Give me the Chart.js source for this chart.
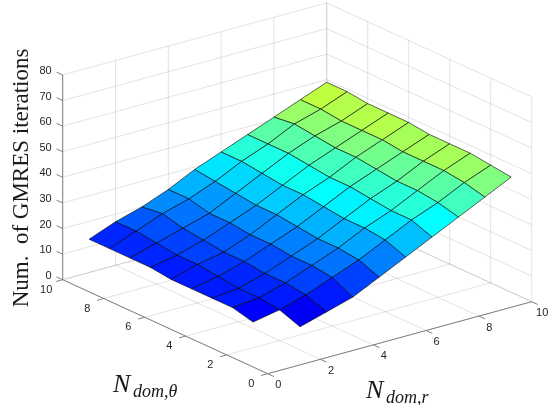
<!DOCTYPE html>
<html>
<head>
<meta charset="utf-8">
<style>
 html, body { margin: 0; padding: 0; background: #fff; }
 canvas { display: block; }
</style>
</head>
<body>
<canvas id="chart" width="558" height="405"></canvas>
<script src="https://cdn.jsdelivr.net/npm/chart.js@4"></script>
<script>
const domR = [1, 2, 3, 4, 5, 6, 7, 8, 9, 10];
const domTheta = [1, 2, 3, 4, 5, 6, 7, 8, 9, 10];
// iterations, one row per N_dom,theta (1..10), one column per N_dom,r (1..10)
const iters1 = [null, 9, 12, 15, 20, 25, 30, 35, 40, 45];
const iters2 = [10, 12, 15, 19, 23, 28, 33, 37, 42, 46];
const iters3 = [12, 13, 16, 20, 24, 29, 33, 38, 43, 47];
const iters4 = [12, 13, 16, 20, 24, 29, 34, 38, 43, 47];
const iters5 = [12, 14, 17, 21, 25, 30, 35, 39, 43, 47];
const iters6 = [12, 15, 17, 21, 26, 31, 35, 40, 44, 48];
const iters7 = [13, 15, 18, 22, 26, 31, 36, 40, 44, 48];
const iters8 = [13, 16, 19, 22, 27, 32, 37, 41, 44, 48];
const iters9 = [13, 17, 21, 24, 28, 33, 37, 42, 45, 49];
const iters10 = [13, 17, 20, 24, 29, 33, 37, 41, 45, 49];
const iterRows = [iters1, iters2, iters3, iters4, iters5, iters6, iters7, iters8, iters9, iters10];

const rTicks = [0, 2, 4, 6, 8, 10];
const thetaTicks = [0, 2, 4, 6, 8, 10];
const zTicks = [0, 10, 20, 30, 40, 50, 60, 70, 80];
const zMax = 80;

// view of the 3d box on the page
function project(r, t, z) {
 return {
  x: 62.7 + 26.4 * r + 20.5 * (10 - t),
  y: 279.7 - 7.2 * r + 9.4 * (10 - t) - 2.56 * z
 };
}

function jet(v) {
 const c = a => Math.round(255 * Math.max(0, Math.min(1, 1.5 - Math.abs(4 * v - a))));
 return `rgb(${c(3)},${c(2)},${c(1)})`;
}

function lineSet(points, color, width) {
 return {
  data: points.map(p => project(p[0], p[1], p[2])),
  borderColor: color,
  borderWidth: width,
  pointRadius: 0,
  tension: 0,
  fill: false
 };
}

const gridColor = "rgba(38,38,38,0.13)";
const axisColor = "#808080";
const gridSets = [];
rTicks.forEach(r => {
 gridSets.push(lineSet([[r, 0, 0], [r, 10, 0]], gridColor, 1));
 gridSets.push(lineSet([[r, 10, 0], [r, 10, zMax]], gridColor, 1));
});
thetaTicks.forEach(t => {
 gridSets.push(lineSet([[0, t, 0], [10, t, 0]], gridColor, 1));
 gridSets.push(lineSet([[10, t, 0], [10, t, zMax]], gridColor, 1));
});
zTicks.forEach(z => {
 gridSets.push(lineSet([[0, 10, z], [10, 10, z]], gridColor, 1));
 gridSets.push(lineSet([[10, 10, z], [10, 0, z]], gridColor, 1));
});

const axisSets = [
 lineSet([[0, 10, 0], [0, 10, zMax]], axisColor, 1),
 lineSet([[0, 0, 0], [0, 10, 0]], axisColor, 1),
 lineSet([[0, 0, 0], [10, 0, 0]], axisColor, 1)
];
zTicks.forEach(z => axisSets.push(lineSet([[0, 10, z], [0, 10.3, z]], axisColor, 1)));
thetaTicks.forEach(t => axisSets.push(lineSet([[0, t, 0], [-0.25, t, 0]], axisColor, 1)));
rTicks.forEach(r => axisSets.push(lineSet([[r, 0, 0], [r, -0.3, 0]], axisColor, 1)));

const cellSets = [];
for (let i = 0; i < domTheta.length - 1; i++) {
 for (let j = 0; j < domR.length - 1; j++) {
  const a = iterRows[i][j], b = iterRows[i][j + 1], c = iterRows[i + 1][j + 1], d = iterRows[i + 1][j];
  if (a === null) continue;
  const set = lineSet([
   [domR[j], domTheta[i], a],
   [domR[j + 1], domTheta[i], b],
   [domR[j + 1], domTheta[i + 1], c],
   [domR[j], domTheta[i + 1], d],
   [domR[j], domTheta[i], a]
  ], "rgba(0,0,0,0.6)", 1);
  set.cellColor = jet(a / zMax);
  cellSets.push(set);
 }
}

// chart.js paints the first dataset last
const datasets = [...cellSets, ...axisSets, ...gridSets];

// fill each surface cell from its own scaled points, just before its outline
const cellFill = {
 id: "cellFill",
 beforeDatasetDraw(chart, args) {
  const color = chart.data.datasets[args.index].cellColor;
  if (!color) return;
  const ctx = chart.ctx;
  ctx.save();
  ctx.beginPath();
  args.meta.data.forEach((pt, n) => n ? ctx.lineTo(pt.x, pt.y) : ctx.moveTo(pt.x, pt.y));
  ctx.closePath();
  ctx.fillStyle = color;
  ctx.fill();
  ctx.restore();
 }
};

function pageX(chart, v) { return chart.scales.x.getPixelForValue(v); }
function pageY(chart, v) { return chart.scales.y.getPixelForValue(v); }

const textPlugin = {
 id: "boxText",
 afterDraw(chart) {
  const ctx = chart.ctx;
  ctx.save();
  ctx.fillStyle = "#262626";
  ctx.font = "11px 'Liberation Sans'";
  ctx.textBaseline = "middle";
  ctx.textAlign = "right";
  zTicks.forEach(z => {
   const p = project(0, 10, z);
   ctx.fillText(String(z), pageX(chart, p.x) - 11, pageY(chart, p.y) - 4);
  });
  ctx.textAlign = "center";
  thetaTicks.forEach(t => {
   const p = project(0, t, 0);
   ctx.fillText(String(t), pageX(chart, p.x) - 16.5, pageY(chart, p.y) + 10);
  });
  rTicks.forEach(r => {
   const p = project(r, 0, 0);
   ctx.fillText(String(r), pageX(chart, p.x) + 10.5, pageY(chart, p.y) + 11.5);
  });

  ctx.fillStyle = "#1a1a1a";
  ctx.textBaseline = "alphabetic";
  ctx.textAlign = "left";
  ctx.font = "italic 26px 'Liberation Serif'";
  ctx.fillText("N", 113, 392);
  ctx.fillText("N", 366, 398);
  ctx.font = "italic 18px 'Liberation Serif'";
  ctx.fillText("dom,θ", 133, 397);
  ctx.fillText("dom,r", 386, 403);

  ctx.translate(28, 178);
  ctx.rotate(-Math.PI / 2);
  ctx.textAlign = "center";
  ctx.font = "23px 'Liberation Serif'";
  ctx.fillText("Num.  of GMRES iterations", 0, 0);
  ctx.restore();
 }
};

new Chart(document.getElementById("chart").getContext("2d"), {
 type: "line",
 data: { datasets },
 options: {
  responsive: false,
  animation: false,
  layout: { padding: 0 },
  plugins: { legend: { display: false }, tooltip: { enabled: false } },
  scales: {
   x: { type: "linear", min: 0, max: 558, display: false },
   y: { type: "linear", min: 0, max: 405, reverse: true, display: false }
  }
 },
 plugins: [cellFill, textPlugin]
});
</script>
</body>
</html>
